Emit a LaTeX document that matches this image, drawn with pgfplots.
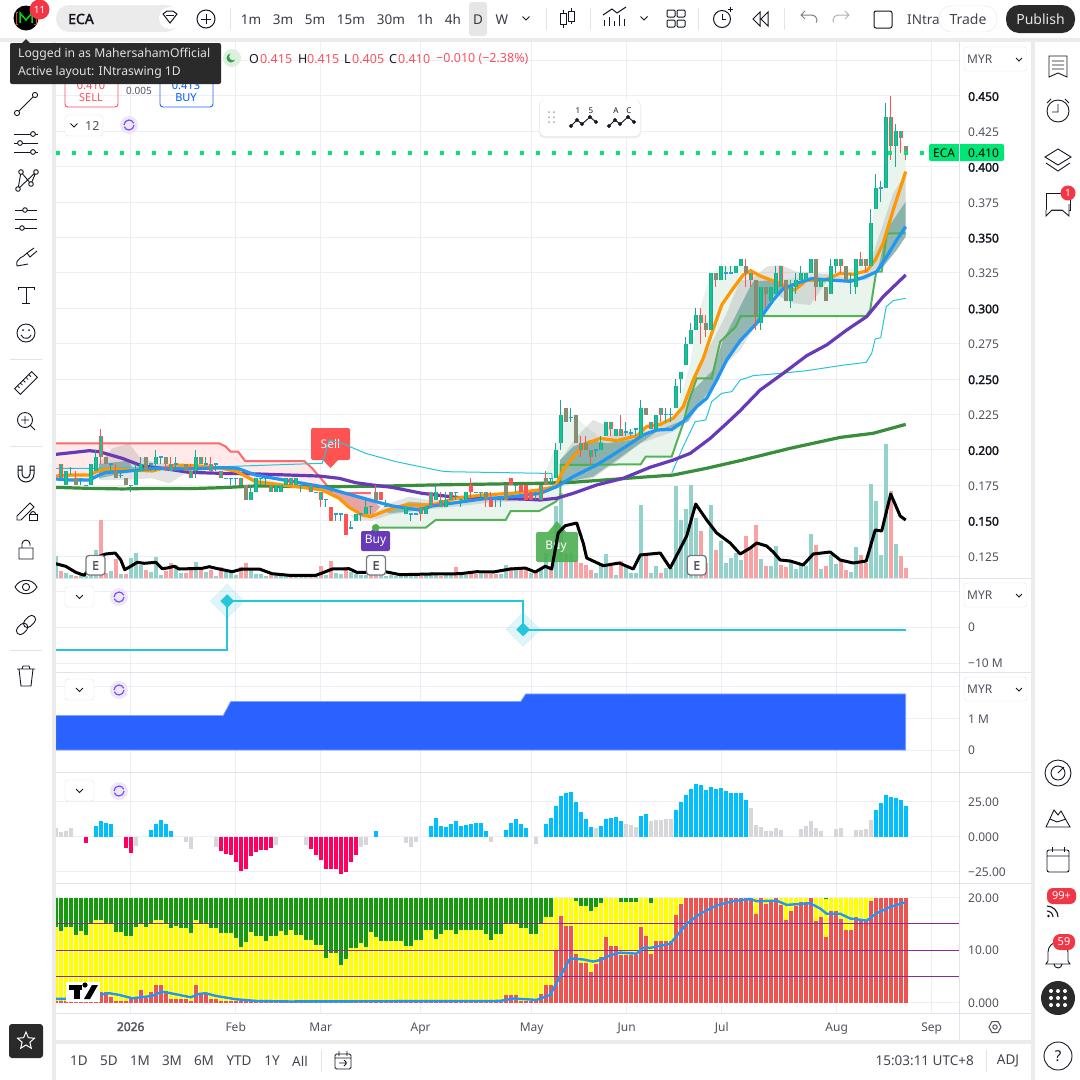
\documentclass[border=0pt]{standalone}
\usepackage{fontspec}
\usepackage{pgfplots}
\usepackage{pgfplotstable}
\pgfplotsset{compat=1.18}
\setmainfont[BoldFont={Noto Sans},BoldFeatures={FakeBold=2.2}]{Noto Sans}
\definecolor{tvgrid}{HTML}{EEEFF4}
\definecolor{tvsep}{HTML}{E0E3EB}
\definecolor{tvbar}{HTML}{EBEBEB}
\definecolor{tvtext}{HTML}{131722}
\definecolor{tvmid}{HTML}{50535E}
\definecolor{tvred}{HTML}{F7525F}
\definecolor{cgreen}{HTML}{10C88F}
\definecolor{cteal}{HTML}{1FA595}
\definecolor{cred}{HTML}{FF5252}
\definecolor{cblue}{HTML}{2A9FD6}
\definecolor{volup}{HTML}{92D2CA}
\definecolor{voldn}{HTML}{FAA1A4}
\definecolor{lblue}{HTML}{2196F3}
\definecolor{lorange}{HTML}{FF9800}
\definecolor{lpurple}{HTML}{673AB7}
\definecolor{ldgreen}{HTML}{388E3C}
\definecolor{lgreen}{HTML}{4CAF50}
\definecolor{lcyan}{HTML}{26C6DA}
\definecolor{tag}{HTML}{00E676}
\definecolor{dark}{HTML}{2A2A2A}
\definecolor{hblue}{HTML}{00BFFF}
\definecolor{hgray}{HTML}{D6D6DB}
\definecolor{hpink}{HTML}{FF0060}
\definecolor{sgreen}{HTML}{149B0C}
\definecolor{syellow}{HTML}{FFFF00}
\definecolor{sred}{HTML}{EF5350}
\definecolor{spurple}{HTML}{8E2A96}
\definecolor{area}{HTML}{2962FF}
\definecolor{HTMLpink}{HTML}{FFE9E9}
\definecolor{HTMLmint}{HTML}{E9F4EC}
\definecolor{HTMLdteal}{HTML}{00695C}
\definecolor{HTMLrose}{HTML}{D06060}
\newcommand{\fs}[1]{\fontsize{#1}{#1}\selectfont}

% candles: i lo hi bot top (prices in MYR)
\pgfplotstableread{
i lo hi bot top
2 .175 .185 .175 .185
7 .175 .19 .175 .19
8 .185 .2 .185 .195
16 .175 .19 .175 .185
17 .185 .195 .185 .19
20 .185 .2 .19 .195
28 .18 .2 .185 .195
39 .165 .175 .165 .17
40 .17 .18 .17 .18
44 .17 .175 .17 .175
45 .17 .175 .17 .175
46 .175 .18 .175 .18
48 .175 .18 .175 .18
60 .15 .155 .15 .155
62 .155 .165 .155 .16
70 .155 .16 .155 .16
74 .155 .16 .155 .16
76 .165 .175 .165 .17
78 .16 .17 .16 .165
82 .165 .17 .165 .17
100 .18 .205 .18 .2
101 .2 .235 .205 .225
109 .2 .21 .2 .205
110 .21 .22 .21 .22
112 .21 .215 .21 .215
117 .21 .235 .21 .23
120 .215 .225 .215 .225
124 .23 .25 .23 .245
125 .24 .255 .25 .255
126 .26 .28 .26 .275
127 .275 .29 .275 .285
128 .285 .3 .285 .295
131 .285 .325 .285 .325
133 .32 .33 .32 .33
136 .325 .33 .325 .33
137 .33 .335 .33 .335
141 .285 .315 .29 .315
143 .305 .315 .305 .315
144 .31 .33 .31 .325
147 .3 .32 .305 .315
148 .31 .325 .315 .32
149 .32 .33 .32 .325
150 .32 .325 .32 .325
151 .325 .335 .325 .335
153 .315 .32 .315 .32
155 .31 .335 .31 .33
156 .325 .335 .33 .335
160 .31 .335 .315 .335
163 .33 .37 .33 .36
164 .37 .395 .37 .385
166 .385 .445 .385 .435
168 .40 .43 .415 .425
}\cUp
\pgfplotstableread{
i lo hi bot top
1 .18 .19 .18 .19
4 .175 .185 .175 .18
9 .19 .215 .195 .21
10 .19 .195 .19 .195
12 .18 .19 .18 .185
14 .175 .18 .175 .18
18 .185 .195 .185 .195
22 .185 .195 .19 .195
23 .185 .195 .185 .19
26 .185 .19 .185 .19
27 .18 .19 .18 .185
29 .19 .195 .19 .195
31 .185 .195 .185 .19
33 .18 .185 .18 .185
37 .175 .18 .175 .18
38 .165 .175 .165 .175
43 .17 .175 .17 .175
47 .175 .18 .175 .18
51 .17 .175 .17 .175
53 .16 .17 .165 .17
64 .165 .175 .165 .17
73 .15 .16 .155 .16
75 .16 .17 .16 .17
77 .16 .17 .16 .165
79 .165 .17 .165 .17
86 .16 .17 .165 .17
90 .165 .175 .165 .175
97 .165 .175 .165 .175
98 .175 .185 .175 .18
102 .22 .23 .22 .23
104 .205 .225 .205 .225
105 .195 .21 .2 .205
106 .2 .21 .2 .205
107 .19 .2 .195 .2
111 .21 .22 .215 .22
113 .21 .225 .21 .215
118 .225 .23 .225 .23
119 .215 .22 .215 .22
121 .22 .23 .225 .23
129 .275 .3 .29 .295
130 .28 .295 .285 .29
132 .315 .325 .32 .325
138 .315 .335 .325 .33
139 .315 .325 .32 .325
140 .285 .32 .295 .32
142 .3 .315 .31 .315
145 .315 .33 .315 .33
146 .305 .32 .305 .32
152 .305 .335 .315 .335
154 .305 .315 .305 .315
157 .325 .335 .33 .335
158 .32 .33 .32 .33
161 .33 .34 .33 .335
162 .325 .335 .33 .335
167 .405 .45 .415 .435
169 .41 .425 .42 .425
170 .405 .415 .41 .415
}\cHollow
\pgfplotstableread{
i lo hi bot top
55 .15 .16 .15 .16
58 .14 .155 .14 .155
65 .165 .17 .165 .17
83 .165 .18 .17 .175
87 .16 .17 .16 .165
91 .175 .18 .175 .18
93 .17 .175 .17 .175
94 .165 .175 .165 .175
95 .165 .17 .165 .17
}\cSolid
\pgfplotstableread{
i lo hi b
3 .182 .188 .187
5 .175 .18 .18
6 .175 .175 .175
11 .185 .19 .19
13 .18 .185 .182
15 .17 .175 .175
19 .185 .19 .19
21 .19 .195 .195
24 .185 .195 .19
30 .19 .195 .19
32 .185 .19 .19
34 .18 .18 .18
35 .175 .18 .18
36 .175 .18 .18
41 .175 .18 .18
42 .175 .18 .18
49 .17 .175 .175
52 .17 .17 .17
54 .16 .165 .165
56 .15 .155 .155
57 .15 .155 .155
59 .145 .15 .145
61 .15 .155 .155
63 .155 .16 .16
66 .16 .165 .16
71 .15 .155 .155
72 .155 .155 .155
80 .165 .17 .17
81 .16 .165 .165
84 .17 .17 .17
85 .165 .17 .17
88 .16 .165 .165
89 .16 .165 .165
92 .17 .175 .175
96 .165 .17 .17
99 .175 .18 .18
103 .22 .23 .223
108 .195 .2 .2
114 .21 .22 .2125
115 .21 .215 .212
116 .21 .215 .215
122 .22 .23 .225
123 .22 .23 .225
134 .32 .33 .325
135 .325 .33 .325
159 .31 .325 .32
165 .375 .39 .385
}\cDoji

% bottom pane: red height, yellow top, green top
\pgfplotstableread{
i r y g
0 .3 14.3 20
1 .3 13.6 20
2 .3 14.3 20
3 .3 14.3 20
4 .3 12.8 20
5 .3 13.6 20
6 .3 12.8 20
7 .3 15 20
8 1.1 15.8 20
9 2 15.8 20
10 2 15 20
11 1.1 15 20
12 .2 13.4 20
13 .2 13.4 20
14 .2 12.6 20
15 .8 12.6 20
16 .8 14.3 20
17 2.3 15 20
18 .8 14.3 20
19 2 15 20
20 3.3 15.8 20
21 3.3 15.8 20
22 2.2 15 20
23 .6 14.1 20
24 .6 14.5 20
25 .6 14.1 20
26 .6 14.1 20
27 .2 13.2 20
28 3.3 15.8 20
29 1.8 15 20
30 1.8 15 20
31 .6 14.1 20
32 .6 14.1 20
33 .2 13.2 20
34 .2 13.2 20
35 .2 13.2 20
36 .2 12.2 20
37 .2 10.6 20
38 .2 11.5 20
39 .2 13.4 20
40 .2 12.6 20
41 .2 12.6 20
42 .2 11.7 20
43 .2 12.6 20
44 .2 12.6 20
45 .1 13.6 20
46 .1 12.8 20
47 .1 13.8 20
48 .1 12.8 20
49 .1 12.8 20
50 .1 11.9 20
51 .1 11.9 20
52 .1 10.9 20
53 .1 10.9 20
54 .1 8.5 20
55 .1 9.4 20
56 .1 9.4 20
57 .1 7.1 20
58 .1 8.3 20
59 .1 10.3 20
60 .1 10.3 20
61 .1 11.3 20
62 .1 10.5 20
63 .1 13.4 20
64 .1 12.4 20
65 .1 11.7 20
66 .1 11.7 20
67 .1 11.7 20
68 .1 11.7 20
69 .1 11.7 20
70 .1 10.7 20
71 .1 10.7 20
72 .1 11.9 20
73 .1 11.9 20
74 .1 13.9 20
75 .1 13.9 20
76 .1 12.1 20
77 .1 13 20
78 .1 13.9 20
79 .1 13.9 20
80 .1 13 20
81 .1 13.9 20
82 .1 13.9 20
83 .1 13.9 20
84 .1 13.9 20
85 .1 13.9 20
86 .1 13 20
87 .1 11.9 20
88 .1 13 20
89 .1 13 20
90 1.45 15 20
91 1.45 15 20
92 1.45 15 20
93 .2 14.1 20
94 .2 14.1 20
95 .2 13 20
96 .2 13 20
97 1.6 15 20
98 3.3 16.2 20
99 3.3 16.2 20
100 9.8 20 20
101 16.4 20 20
102 14.5 20 20
103 14.5 20 20
104 9.2 19.3 20
105 7.5 18.4 20
106 7.5 18.4 20
107 5.8 17.4 20
108 7.3 18.2 20
109 8.6 18.9 20
110 12.4 20 20
111 10.7 20 20
112 10.7 20 20
113 9 19.1 20
114 9 19.1 20
115 9 19.1 20
116 9 19.1 20
117 14.3 20 20
118 12.6 20 20
119 9.2 18.9 20
120 11.7 20 20
121 11.7 20 20
122 11.7 20 20
123 11.7 20 20
124 16.6 20 20
125 18.7 20 20
126 20 20 20
127 20 20 20
128 20 20 20
129 20 20 20
130 20 20 20
131 20 20 20
132 20 20 20
133 20 20 20
134 20 20 20
135 20 20 20
136 20 20 20
137 20 20 20
138 20 20 20
139 20 20 20
140 16.8 20 20
141 20 20 20
142 18.7 20 20
143 19.6 20 20
144 20 20 20
145 18.5 20 20
146 15.8 20 20
147 17.4 20 20
148 18.3 20 20
149 19.1 20 20
150 19.1 20 20
151 20 20 20
152 15.5 20 20
153 16.2 20 20
154 12.4 19.7 20
155 17.4 20 20
156 17.4 20 20
157 16 20 20
158 13.8 20 20
159 13.8 20 20
160 16.2 20 20
161 15.6 20 20
162 15.6 20 20
163 19.4 20 20
164 20 20 20
165 20 20 20
166 20 20 20
167 20 20 20
168 20 20 20
169 20 20 20
170 20 20 20
}\stack

\newcommand{\wickplot}[5]{%
 \addplot[forget plot,draw=none,mark=none,error bars/.cd,y dir=plus,y explicit,error mark=none,error bar style={draw=#2,solid,line width=#3}]
   table[x=i,y=#4,y error plus expr=\thisrow{#5}-\thisrow{#4}]{#1};}
\newcommand{\candles}[4]{%
 \wickplot{#1}{#2}{1pt}{lo}{hi}
 \wickplot{#1}{#3}{4pt}{bot}{top}
 \wickplot{#1}{#4}{2pt}{bot}{top}
}

\pgfplotsset{pane/.style={scale only axis,width=903pt,xmin=0.06,xmax=180.66,anchor=south west,
  axis line style={draw=none},major tick length=0pt,tick style={draw=none},
  xtick={15,36,53,73,95.2,114.2,133.2,156.2,175.2},xticklabels={},
  xmajorgrids,ymajorgrids,grid style={draw=tvgrid,line width=1pt},
  ytick pos=right,yticklabel pos=right,
  yticklabel style={anchor=west,xshift=9pt,yshift=-.6pt,inner sep=0pt,font=\fs{12},text=tvmid},
  clip=true},
  over/.style={scale only axis,width=903pt,xmin=0.06,xmax=180.66,anchor=south west,hide axis,clip=true}}

\tikzset{HTML/.code={\definecolor{tmpc}{HTML}{#1}\tikzset{color=tmpc}}}
\newcommand{\chev}[2]{\draw[line width=1pt,tvtext] (#1-3.5,#2-1.5)--(#1,#2+2)--(#1+3.5,#2-1.5);}
\newcommand{\refr}[2]{\fill[HTML=EDE7F6] (#1,#2) circle (9);
  \draw[line width=1.2pt,HTML=7C4DFF] (#1-5,#2) arc (180:340:5); \draw[line width=1.2pt,HTML=7C4DFF] (#1+5,#2) arc (0:160:5);}
\newcommand{\chevbox}[2]{\draw[tvsep,rounded corners=3,fill=white] (65,#1) rectangle (94,#2);\chev{79.5}{#1/2+#2/2}}
\newcommand{\myr}[1]{\draw[tvsep,rounded corners=3,fill=white] (964,#1) rectangle (1027,#1+24);
  \node[anchor=west,inner sep=0,font=\fs{12},text=tvmid] at (967,#1+12) {MYR}; \draw[line width=.9pt,tvtext] (1016,#1+11)--(1019,#1+14)--(1022,#1+11);}
\newcommand{\wave}[4]{\draw[line width=.9pt,tvtext] (#1,#2+6)--(#1+6,#2)--(#1+11,#2+4)--(#1+19,#2-3)--(#1+25,#2+2);
  \foreach \a/\b in {0/6,6/0,11/4,19/-3,25/2}{\draw[fill=white,line width=.7pt,tvtext] (#1+\a,#2+\b) circle (1.6);}
  \node[inner sep=0,font=\fs{8},text=tvtext] at (#1+7,#2-9) {#3}; \node[inner sep=0,font=\fs{8},text=tvtext] at (#1+20,#2-9) {#4};}

\begin{document}
\begin{tikzpicture}
\path[use as bounding box,fill=white] (0pt,0pt) rectangle (1080pt,-1080pt);

%----- main pane: grid and price scale
\begin{axis}[pane,at={(56pt,-578pt)},height=536pt,ymin=.1096,ymax=.4881,
  ytick={.125,.15,.175,.2,.225,.25,.275,.3,.325,.35,.375,.4,.425,.45,.475},
  yticklabels={0.125,\textcolor{tvtext}{\textbf{0.150}},0.175,\textcolor{tvtext}{\textbf{0.200}},0.225,\textcolor{tvtext}{\textbf{0.250}},0.275,\textcolor{tvtext}{\textbf{0.300}},0.325,\textcolor{tvtext}{\textbf{0.350}},0.375,\textcolor{tvtext}{\textbf{0.400}},0.425,\textcolor{tvtext}{\textbf{0.450}},{}}]
\end{axis}

%----- volume
\begin{axis}[over,at={(56pt,-578pt)},height=536pt,ymin=0,ymax=536]
\addplot[ycomb,mark=none,line width=4pt,color=volup] coordinates {(0,22)(2,5)(3,3)(5,3)(6,2)(7,18)(8,28)(11,7)(13,4)(15,20)(16,25)(17,13)(19,6)(20,21)(21,3)(24,13)(25,5)(28,16)(30,6)(32,2)(34,6)(35,6)(36,3)(39,8)(40,4)(41,4)(42,2)(44,3)(45,5)(46,4)(48,3)(49,4)(50,3)(52,3)(54,3)(56,5)(57,4)(59,6)(60,4)(61,3)(62,3)(65,3)(66,2)(67,3)(68,2)(69,3)(70,3)(71,2)(72,3)(74,3)(75,6)(76,3)(78,3)(79,3)(81,4)(82,3)(85,4)(89,4)(90,13)(92,10)(95,5)(97,10)(98,25)(100,72)(101,85)(103,25)(108,5)(109,15)(110,24)(112,3)(114,12)(115,5)(116,5)(117,73)(119,5)(120,12)(122,10)(123,10)(124,92)(125,58)(126,69)(127,93)(128,60)(131,73)(133,37)(134,15)(135,20)(136,25)(137,18)(141,19)(143,12)(144,32)(147,17)(148,9)(149,15)(150,12)(151,44)(153,9)(155,23)(156,14)(159,6)(160,31)(163,94)(164,77)(165,23)(166,134)(168,34)};
\addplot[ycomb,mark=none,line width=4pt,color=voldn] coordinates {(1,7)(4,2)(9,58)(10,5)(12,19)(14,4)(18,8)(22,7)(23,15)(26,5)(27,8)(29,8)(31,8)(33,11)(37,11)(38,15)(43,4)(47,3)(51,2)(53,12)(55,17)(58,11)(63,3)(64,4)(73,2)(77,2)(80,11)(83,5)(84,4)(86,4)(87,4)(88,4)(91,11)(93,9)(94,10)(96,7)(99,12)(102,25)(104,18)(105,15)(106,13)(107,8)(111,12)(113,17)(118,22)(121,5)(129,47)(130,15)(132,28)(138,42)(139,30)(140,53)(142,12)(145,13)(146,11)(152,33)(154,12)(157,18)(158,8)(161,23)(162,15)(167,87)(169,22)(170,10)};
\end{axis}

%----- signal labels under the price series
\begin{scope}[x=1pt,y=-1pt]
\fill[cred,rounded corners=2] (311,428) rectangle (350,460);
\fill[cred] (322,459)--(339,459)--(330.5,468)--cycle;
\node[inner sep=0,font=\fs{12},text=white] at (330.5,444) {Sell};
\fill[lpurple,rounded corners=2] (361,531) rectangle (390,551);
\fill[lpurple] (370,532)--(380,532)--(375,527)--cycle;
\node[inner sep=0,font=\fs{12},text=white] at (375.5,541) {Buy};
\fill[lgreen,fill opacity=.9,rounded corners=2] (536,532) rectangle (578,562);
\fill[lgreen,fill opacity=.9] (548,532)--(566,532)--(557,521)--cycle;
\node[inner sep=0,font=\fs{12},text=white] at (556,547) {Buy};
\end{scope}

%----- prices and overlays
\begin{axis}[over,at={(56pt,-578pt)},height=536pt,ymin=.1096,ymax=.4881]
% pink trail
\addplot[draw=none,fill=HTMLpink] coordinates {(0,.2047)(32.7,.2047)(34,.2024)(35,.1988)(36.5,.1988)(37.9,.1922)(49.7,.1922)(51.3,.1871)(55.3,.1706)(51,.1741)(40,.1823)(33,.1875)(20,.1871)(10,.1842)(6,.1788)(0,.1795)} -- cycle;
\addplot[draw=none,fill=HTMLpink] coordinates {(53,.1741)(55.3,.1706)(58,.1699)(63,.1699)(64.7,.1576)(63,.1529)(59,.1595)(56,.1659)} -- cycle;
% green trail
\addplot[draw=none,fill=HTMLmint] coordinates {(64,.1451)(74,.1451)(76,.1506)(90,.1506)(91,.1569)(96.7,.1569)(98,.1595)(100,.1635)(100.9,.167)(101,.1894)(117,.1899)(118,.1953)(123.2,.1953)(125.5,.2188)(126.5,.233)(128.2,.2506)(131.2,.2506)(132.9,.2765)(136,.287)(137,.2946)(162.1,.2946)(162.9,.2989)(164.1,.3259)(165.2,.3259)(166.2,.3525)(167,.353)(170,.353)(170,.412)(166.2,.433)(165.2,.385)(164.2,.385)(163.2,.36)(162,.33)(150,.322)(143.5,.32)(138,.3295)(134,.33)(131,.325)(128.2,.2918)(126.9,.2612)(124,.225)(118,.218)(109,.208)(104,.223)(102,.229)(101,.2235)(100.2,.2047)(96,.167)(90,.167)(80,.1628)(75,.16)(67,.1581)(64,.1529)} -- cycle;
% grey clouds
\addplot[draw=none,fill=gray,fill opacity=.22] coordinates {(8.7,.1906)(11.3,.2012)(14.7,.2047)(16.7,.1953)(20,.1906)(26.7,.1894)(33.3,.1871)(36.7,.1847)(31.3,.1859)(26.7,.1847)(22.7,.1765)(19.3,.18)(13.3,.1788)(8.7,.1788)} -- cycle;
\addplot[draw=none,fill=gray,fill opacity=.18] coordinates {(36.7,.1835)(42.7,.1788)(50.7,.1718)(53.3,.1718)(46.7,.1741)(40,.1753)} -- cycle;
\addplot[draw=none,fill=gray,fill opacity=.22] coordinates {(58.7,.1541)(63.3,.1541)(66.7,.1623)(70.7,.167)(74.7,.1647)(80,.1647)(86.7,.167)(96.7,.1706)(96.7,.1647)(86.7,.1628)(80,.16)(73.3,.1576)(66.7,.1541)(63.3,.1501)(60,.1506)} -- cycle;
\addplot[draw=none,fill=gray,fill opacity=.22] coordinates {(100.9,.1929)(104.2,.2094)(107.5,.2212)(112.2,.2141)(116.2,.2106)(123.5,.2212)(126.5,.2377)(128.2,.2565)(131.5,.2777)(134.2,.2965)(136.9,.32)(138.9,.32)(142.2,.3295)(144.9,.3306)(148.2,.3259)(150.9,.3259)(159.5,.3212)(162.2,.3248)(165.5,.36)(167.5,.3813)(170,.3954)(170,.3507)(168.2,.3412)(165.5,.3295)(162.2,.32)(154.2,.3189)(150.9,.3024)(147.5,.3036)(143.5,.3106)(140.2,.2895)(136.9,.2706)(134.2,.2612)(131.5,.2459)(128.9,.233)(126.5,.22)(123.5,.2129)(116.9,.2047)(112.2,.1918)(107.5,.18)(100.9,.1741)} -- cycle;
% teal clouds
\addplot[draw=none,fill=HTMLdteal,fill opacity=.35] coordinates {(8.7,.19)(14.7,.1925)(15.5,.185)(8.7,.18)} -- cycle;
\addplot[draw=none,fill=HTMLdteal,fill opacity=.3] coordinates {(66,.1564)(70.7,.1635)(74.7,.1623)(73.3,.1576)(66.7,.1553)} -- cycle;
\addplot[draw=none,fill=HTMLdteal,fill opacity=.35] coordinates {(100.9,.1929)(103.5,.2024)(106.9,.2071)(110.2,.2047)(116.9,.2082)(125.5,.2212)(126.9,.24)(129.5,.2494)(131.5,.2565)(133.5,.2777)(136.9,.3012)(138.2,.3106)(139.5,.3189)(143.5,.32)(146.2,.3153)(143.5,.3083)(140.2,.2895)(136.9,.2753)(134.2,.2647)(131.5,.2459)(128.9,.233)(126.5,.22)(120.2,.2129)(116.9,.2047)(112.2,.1929)(107.5,.1812)(100.9,.1765)} -- cycle;
\addplot[draw=none,fill=HTMLdteal,fill opacity=.35] coordinates {(164.2,.3259)(164.9,.3342)(166.2,.3554)(170,.3754)(170,.3507)(168.2,.3412)(165.5,.3295)} -- cycle;
\addplot[draw=none,fill=HTMLrose,fill opacity=.5] coordinates {(53,.1741)(58,.1694)(63.3,.1642)(65,.16)(63,.1529)(60.6,.1541)(58.7,.1595)(56.7,.1659)} -- cycle;
% stop lines
\addplot[color=cred,line width=2pt,opacity=.85] coordinates {(0,.2047)(32.7,.2047)(34,.2024)(35,.1988)(36.5,.1988)(37.9,.1922)(49.7,.1922)(51.3,.1871)(55.3,.1706)};
\addplot[color=cred,line width=2pt,opacity=.85] coordinates {(58,.1699)(63,.1699)};
\addplot[color=lgreen,line width=2pt,opacity=.95] coordinates {(64,.1451)(74,.1451)(76,.1506)(90,.1506)(91,.1569)(96.7,.1569)(98,.1595)(100,.1635)(100.9,.167)(101,.1894)(117,.1899)(118,.1953)(123.2,.1953)(125.5,.2188)(126.5,.233)(128.2,.2506)(131.2,.2506)(132.9,.2765)(136,.287)(137,.2946)(162.1,.2946)(162.9,.2989)(164.1,.3259)(165.2,.3259)(166.2,.3525)(167,.353)(170,.353)};
\addplot[only marks,mark=*,mark size=3.5pt,color=lgreen] coordinates {(64,.1451)};
% thin cyan line
\addplot[color=lcyan,line width=1pt] coordinates {(0,.1871)(8.7,.1871)(33.3,.1882)(53.3,.1906)(54.7,.2071)(57.3,.2047)(62,.1976)(68,.1918)(76.7,.1854)(78,.1847)(98,.1835)(99.2,.1835)(99.5,.1725)};
\addplot[color=lcyan,line width=1pt] coordinates {(123.2,.1835)(125.5,.2024)(127.9,.22)(130,.2212)(131.2,.2341)(133.2,.24)(135.2,.2412)(136.9,.2494)(139.5,.2525)(144.9,.2541)(150.2,.256)(156.9,.2596)(162.1,.2619)(163.2,.2683)(163.9,.2784)(165,.2793)(166.1,.3012)(167.5,.3055)(170,.3071)};
% long averages
\addplot[color=ldgreen,line width=3.2pt] coordinates {(0,.1736)(6.7,.1729)(13.3,.1725)(20,.1729)(26.7,.1727)(33.3,.1734)(40,.1746)(50,.1741)(56.7,.1741)(66.7,.1746)(75.3,.1753)(96.9,.1765)(103.5,.1772)(116.9,.1807)(123.5,.1823)(130.2,.1871)(136.9,.1925)(146.9,.2012)(156.9,.2089)(163.5,.2118)(170,.2181)};
\addplot[color=lpurple,line width=3.2pt] coordinates {(0,.1969)(6.7,.1995)(8.7,.1988)(13.3,.1941)(17.3,.1887)(21.3,.1871)(26.7,.1842)(33.3,.1835)(40,.1831)(46.7,.1823)(52.7,.1816)(56.7,.18)(60,.1769)(63.3,.1753)(67.3,.1736)(73.3,.1694)(80,.1666)(86.7,.1659)(93.3,.1654)(96.9,.1647)(100.2,.1659)(103.5,.1694)(108.2,.1753)(113.5,.18)(118.9,.1878)(123.5,.1929)(126.9,.1976)(130.9,.2082)(134.2,.2188)(136.9,.2278)(140.9,.2424)(145.5,.2541)(150.2,.2666)(154.2,.2742)(158.2,.2847)(162.2,.2942)(165.5,.3083)(170,.3236)};
% fast averages
\addplot[color=lorange,line width=3.2pt] coordinates {(0,.1816)(3,.1823)(6.7,.1823)(8.7,.1854)(10.7,.1866)(14.7,.1859)(19.3,.1852)(24,.1894)(28.7,.1887)(33.3,.1871)(36.3,.1847)(40,.1776)(45.3,.1753)(49.3,.1736)(53.3,.1718)(56.7,.1659)(58.7,.1595)(61.3,.1541)(63,.1529)(66.7,.1581)(70,.1612)(75.3,.1612)(80,.1659)(85.3,.1682)(91.3,.1694)(96.7,.1718)(99.9,.1741)(101.5,.1859)(103.5,.1953)(106.2,.2047)(108.9,.2082)(112.2,.2066)(116.2,.2099)(118.2,.2165)(120.9,.2181)(123.5,.2224)(125.5,.2306)(127.5,.2494)(129.5,.2647)(131.2,.2824)(133.2,.3024)(135.5,.3142)(137.5,.3236)(139,.3266)(140.9,.3229)(143.5,.3194)(147.8,.313)(150.2,.32)(153.5,.3196)(156.9,.3248)(159.5,.3241)(162.2,.3264)(163.9,.3342)(165.5,.346)(167.5,.3695)(170,.3966)};
\addplot[color=lblue,line width=3.2pt] coordinates {(0,.1795)(3,.1788)(6.7,.1788)(8.7,.1823)(10,.1842)(13.3,.1847)(20,.1871)(26,.1866)(33.3,.1875)(36.3,.1871)(40,.1823)(46.7,.1781)(53.3,.1741)(58,.1694)(63.3,.1642)(67.3,.1605)(72.7,.1576)(75.3,.1605)(80,.1628)(85.3,.1654)(91.3,.167)(96.9,.1694)(100.2,.1741)(103.5,.1812)(108.2,.1894)(113.5,.2012)(117.5,.2106)(120.2,.2141)(123.2,.2146)(125.5,.22)(128.2,.2306)(130.2,.2365)(132.2,.2494)(134.2,.2636)(136.9,.2772)(140.2,.2895)(143.5,.3059)(145.5,.3139)(148.2,.3177)(151.2,.321)(154.9,.32)(158.9,.3191)(161.5,.3217)(164.2,.3259)(166.2,.3365)(168.2,.3483)(170,.3577)};
% candles
\candles{\cUp}{cteal}{cteal}{cgreen}
\candles{\cHollow}{cred}{cred}{cgreen}
\candles{\cSolid}{cred}{cred}{cred}
\wickplot{\cDoji}{cteal}{1pt}{lo}{hi}
\addplot[forget plot,only marks,mark=-,mark size=2pt,mark options={line width=1.6pt,draw=cblue}] table[x=i,y=b]{\cDoji};
% last price line
\addplot[color=tag,line width=4pt,dash pattern=on 4pt off 12pt] coordinates {(0.06,.41)(174.9,.41)};
\end{axis}

%----- oscillator line over volume
\begin{axis}[over,at={(56pt,-578pt)},height=536pt,ymin=0,ymax=536]
\addplot[color=black,line width=3pt,line join=round] coordinates {(0,14.3)(2,11.7)(4,5.7)(5.7,2.7)(8.7,21.7)(10,24)(11.9,25)(13,18.3)(13.8,8.3)(15,11.7)(16.3,15.7)(17.7,14.7)(20,15.7)(21.3,9.3)(22.3,10)(23.7,11.7)(24.7,9)(29.3,9.7)(30.7,11.3)(32.7,9)(35.3,6.3)(37.3,9)(40.7,9)(43.3,4.3)(46.7,2.7)(52,2.7)(53.3,5)(55.3,9)(58.7,9.3)(60.2,5.7)(62,5.7)(65.5,6.7)(68.9,3.3)(74.9,4)(80.9,4.3)(84.2,6.3)(87.5,6)(90.9,9)(93.9,10)(95.9,6)(97.9,11.7)(99.2,9)(100.5,45)(101.9,52.3)(104.2,55)(105.5,35)(106.2,20)(109.5,12.3)(112.7,15)(115.5,9)(116.9,23)(120.9,25)(122.9,10)(126.2,42)(128,74)(130.2,58)(132.2,45)(134.9,35)(136.9,24)(138.9,30)(140.2,35)(142.2,32)(143.5,26)(144.9,18)(146.9,17)(149.5,13)(151.5,24)(154.9,26)(156.9,18)(159.5,15)(162.1,17)(163.9,48)(165.2,47)(167,84)(168.9,62)(170,58)};
\end{axis}

%----- second pane
\begin{axis}[pane,at={(56pt,-671pt)},height=92pt,ymin=-12.22,ymax=13.33,ytick={-10,0,10},yticklabels={−10 M,0,{}}]
\addplot[only marks,mark=square*,mark size=12pt,color=lcyan,opacity=.15,mark options={rotate=45}] coordinates {(34.3,7.2)(93.5,-.7)};
\addplot[color=lcyan,line width=2pt] coordinates {(0,-6.4)(34.3,-6.4)(34.3,7.2)(93.5,7.2)(93.5,-.7)(170,-.7)};
\addplot[only marks,mark=square*,mark size=4.6pt,color=lcyan,mark options={rotate=45}] coordinates {(34.3,7.2)(93.5,-.7)};
\end{axis}

%----- third pane
\begin{axis}[pane,at={(56pt,-772pt)},height=100pt,ymin=-.695,ymax=2.464,ytick={0,1,2},yticklabels={0,1 M,{}}]
\addplot[fill=area,draw=area!60!white,line width=.8pt] coordinates {(0,0)(0,1.09)(33.5,1.09)(35,1.53)(93,1.53)(94,1.77)(170,1.77)(170,0)} -- cycle;
\end{axis}

%----- histogram pane
\begin{axis}[pane,at={(56pt,-883pt)},height=110pt,ymin=-32.8,ymax=45.1,ytick={-25,0,25},yticklabels={−25.00,0.000,25.00}]
\addplot[ycomb,mark=none,line width=4pt,color=hgray] coordinates {(0,5.9)(1,3.5)(2,4.2)(3,5.9)(16,-6.4)(26,-3.5)(27,-8.5)(32,-7.3)(44,-5.7)(50,-5.7)(61,-7.1)(62,-5.7)(70,-4.2)(71,-7.1)(72,-3.5)(87,-3.5)(96,-5.2)(108,6.1)(114,9)(115,8.3)(116,6.8)(119,11.1)(120,11.8)(121,11.8)(122,12.5)(123,12.5)(139,20.3)(140,8.3)(141,6.8)(142,4)(143,4)(144,6.1)(145,4.7)(149,5.4)(150,7.6)(151,11.1)(152,6.1)(153,4)(156,5.4)(157,6.1)(160,4.7)(161,4.7)(162,5.4)(163,11.8)};
\addplot[ycomb,mark=none,line width=4pt,color=hblue] coordinates {(8,7.6)(9,11.1)(10,9.7)(11,9)(19,4.7)(20,9)(21,11.8)(22,9)(23,4)(64,4)(75,7.6)(76,13.2)(77,7.6)(78,6.8)(79,9)(80,11.1)(81,7.6)(82,8.3)(83,9)(84,9.7)(85,9.7)(86,4)(90,4.7)(91,9.7)(92,12.5)(93,9)(94,6.1)(98,9)(99,13.2)(100,21.7)(101,28.8)(102,30.9)(103,31.6)(104,24.5)(105,17.5)(106,12.5)(107,6.8)(109,7.6)(110,12.5)(111,13.2)(112,13.9)(113,11.1)(117,14.6)(118,16)(124,18.9)(125,24.5)(126,29.5)(127,33.7)(128,37.3)(129,36.6)(130,33)(131,35.2)(132,33.7)(133,34.5)(134,32.3)(135,30.9)(136,30.9)(137,30.9)(138,26)(164,18.9)(165,23.8)(166,29.5)(167,28.1)(168,27.4)(169,26)(170,21.7)};
\addplot[ycomb,mark=none,line width=4pt,color=hpink] coordinates {(6,-4.2)(14,-7.8)(15,-11.3)(33,-10.1)(34,-12)(35,-13)(36,-17.7)(37,-24.1)(38,-22.9)(39,-13.5)(40,-10.9)(41,-9.4)(42,-9.2)(43,-7.8)(51,-8.5)(52,-13)(53,-16.5)(54,-22.7)(55,-22.7)(56,-22.7)(57,-26.2)(58,-24.8)(59,-17.7)(60,-12.7)};
\end{axis}

%----- bottom pane
\begin{axis}[pane,at={(56pt,-1013pt)},height=129pt,ymin=-2,ymax=22.57,ytick={0,10,20},yticklabels={0.000,10.00,20.00},
  xticklabels={\textbf{2026},Feb,Mar,Apr,May,Jun,Jul,Aug,Sep},xticklabel pos=bottom,
  xticklabel style={anchor=base,yshift=-18pt,inner sep=0pt,font=\fs{12},text=tvmid}]
\addplot[ycomb,mark=none,line width=4pt,color=sgreen] table[x=i,y=g]{\stack};
\addplot[ycomb,mark=none,line width=4pt,color=syellow] table[x=i,y=y]{\stack};
\addplot[ycomb,mark=none,line width=4pt,color=sred] table[x=i,y=r]{\stack};
\addplot[color=spurple,line width=1pt] coordinates {(0.06,15)(180.66,15)};
\addplot[color=spurple,line width=1pt] coordinates {(0.06,10)(180.66,10)};
\addplot[color=spurple,line width=1pt] coordinates {(0.06,5)(180.66,5)};
\addplot[color=lblue,line width=2.4pt] coordinates {(0,.7)(3,.7)(7.3,.8)(8.7,1.45)(10.7,1.77)(12.7,1.45)(15.3,.8)(19.3,1.26)(21.3,2.08)(24.7,1.45)(27,1)(28.7,1.64)(30,1.77)(32,1.26)(36,.63)(40,.3)(46.7,.2)(88.9,.3)(91.5,.76)(96.2,.5)(98.9,1.45)(100.5,4.3)(102.9,8.4)(105.5,8.2)(107.5,7.8)(108.9,8.1)(110.9,9)(112.9,9.5)(116.2,9.3)(117.5,10.4)(118.9,10.4)(122.9,11.2)(126.2,15)(128.9,16.9)(132.2,18.5)(135.5,19.3)(138.9,19.7)(140.2,19.3)(144.2,19.4)(146.2,18.6)(150.9,18.9)(152.9,17.9)(154.2,16.9)(156.9,16.9)(158.9,16)(162.2,15.6)(164.2,17)(166.9,18.2)(170,19.1)};
\end{axis}

%----- interface furniture
\begin{scope}[x=1pt,y=-1pt]
% separators
\fill[tvbar] (0,38) rectangle (1080,42);
\fill[tvbar] (52,42) rectangle (56,1080);
\fill[tvbar] (1031,42) rectangle (1035,1080);
\fill[tvbar] (56,1040) rectangle (1031,1044);
\foreach \y in {578,672,772,883,1013} {\draw[tvsep,line width=1pt] (56,\y)--(1031,\y);}
\draw[tvsep,line width=1pt] (959,42)--(959,1040);

% watermark
\fill[white] (66,982) rectangle (100,1002);
\fill[black] (69,985) rectangle (82,990); \fill[black] (74,985) rectangle (80,999);
\fill[black] (85,985) circle (2.6);
\fill[black] (92,985)--(98,985)--(90,999)--(84,999)--cycle;

% E badges
\foreach \x in {95.5,376,696.7} {
 \draw[HTML=77797F,line width=1.3pt,fill=white,rounded corners=3] (\x-9.5,555.5) rectangle (\x+9.5,575);
 \node[inner sep=0,font=\fs{12}\bfseries,text=tvmid] at (\x,565.5) {E};}

% last price tag
\fill[tag,rounded corners=2] (929,144) rectangle (1004,161);
\draw[white,line width=.8pt] (959.5,144)--(959.5,161);
\node[anchor=west,inner sep=0,font=\fs{12},text=black] at (933,153) {ECA};
\node[anchor=west,inner sep=0,font=\fs{12},text=black] at (968,153) {0.410};

% legend row
\fill[HTML=DDEFDD] (232,58) circle (9);
\fill[HTML=2E9E4F] (231,58) circle (4.5); \fill[HTML=DDEFDD] (233,56.5) circle (3.8);
\foreach \x/\s/\c in {249/O/tvtext,260/0.415/tvred,298/H/tvtext,307/0.415/tvred,344/L/tvtext,352/0.405/tvred,389/C/tvtext,398/0.410/tvred,436/−0.010 (−2.38\%)/tvred}
 {\node[anchor=west,inner sep=0,font=\fs{12.5},text=\c] at (\x,59) {\s};}
% buy sell
\draw[tvred,rounded corners=3,line width=.9pt] (65,70) rectangle (118,107);
\node[inner sep=0,font=\fs{11},text=tvred] at (91,98) {SELL};
\node[inner sep=0,font=\fs{11},text=tvred] at (91,86) {0.410};
\draw[HTML=2962FF,rounded corners=3,line width=.9pt] (160,70) rectangle (213,107);
\node[inner sep=0,font=\fs{11},text=blue!65!cyan] at (186,98) {BUY};
\node[inner sep=0,font=\fs{11},text=blue!65!cyan] at (186,86) {0.413};
\node[inner sep=0,font=\fs{10},text=tvmid] at (139,91) {0.005};
% tooltip
\fill[dark,rounded corners=2] (10,43) rectangle (221,84);
\fill[dark] (21,44)--(26,39)--(31,44)--cycle;
\node[anchor=west,inner sep=0,font=\fs{12.2},text=white!88!black] at (18,54.5) {Logged in as MahersahamOfficial};
\node[anchor=west,inner sep=0,font=\fs{12.2},text=white!88!black] at (18,72.5) {Active layout: INtraswing 1D};
% pane controls
\draw[tvsep,rounded corners=3,fill=white] (65,115) rectangle (103,136);
\chev{74}{125} \node[anchor=west,inner sep=0,font=\fs{12.5},text=tvmid] at (85,125.5) {12};
\refr{129}{125}
\chevbox{586}{607}\refr{119}{597}
\chevbox{679}{700}\refr{119}{690}
\chevbox{780}{801}\refr{119}{791}
\myr{47}\myr{583}\myr{677}
% floating drawing bar
\fill[gray!15,rounded corners=5] (539,100) rectangle (641,138);
\fill[white,rounded corners=5] (540,100) rectangle (640,136);
\foreach \a in {549,554} \foreach \b in {112,117,122} {\fill[gray!70] (\a,\b) circle (1);}
\wave{571}{120}{1}{5} \wave{609}{120}{A}{C}

% top bar
\fill[HTML=EBEBEB,rounded corners=13] (56,5) rectangle (179,32);
\fill[white] (170,18) circle (11);
\draw[line width=1pt,tvtext] (163,14)--(167,11)--(173,11)--(177,14)--(170,23)--cycle; \draw[line width=1pt,tvtext] (166,15)--(174,15);
\node[anchor=west,inner sep=0,font=\fs{14}\bfseries,text=tvtext] at (68,19) {ECA};
\draw[line width=1pt,tvtext] (206,19) circle (9); \draw[line width=1pt,tvtext] (201,19)--(211,19) (206,14)--(206,24);
\draw[tvsep] (230,8)--(230,30);
\fill[HTML=E6E6E6,rounded corners=3] (469,2) rectangle (487,36);
\foreach \x/\s in {251/1m,283/3m,315/5m,351/15m,391/30m,425/1h,453/4h,478/D,502/W}
 {\node[inner sep=0,font=\fs{13.5},text=tvtext!85!white] at (\x,19.5) {\s};}
\chev{526}{18}
\draw[tvsep] (546,8)--(546,30);
% candle icon
\draw[tvtext,line width=1pt] (563,10)--(563,28) (571,8)--(571,24); \draw[tvtext,fill=white,line width=1pt] (560,13) rectangle (566,24); \draw[tvtext,fill=white,line width=1pt] (568,11) rectangle (574,21);
\draw[tvsep] (590,8)--(590,30);
% indicators
\draw[tvtext,line width=1pt] (604,26)--(604,20) (609,26)--(609,17) (614,26)--(614,21) (619,26)--(619,15) (624,26)--(624,19);
\draw[tvtext,line width=1pt] (603,15)--(612,9)--(617,13)--(626,7);
\chev{644}{18}
% layout
\foreach \a/\b in {667/10,677/10,667/20,677/20} {\draw[tvtext,line width=1pt,rounded corners=1] (\a,\b) rectangle (\a+8,\b+7);}
\draw[tvsep] (698,8)--(698,30);
% alert
\draw[tvtext,line width=1pt] (722,19) circle (8.5); \draw[tvtext,line width=1pt] (722,14)--(722,19)--(726,19) (728,9)--(733,9) (730.5,6.5)--(730.5,11.5);
% replay
\draw[tvtext,line width=1pt] (760,12)--(753,19)--(760,26)--cycle (768,12)--(761,19)--(768,26)--cycle;
\draw[tvsep] (784,8)--(784,30);
% undo redo
\draw[gray,line width=1pt] (801,15)--(812,15) arc (270:390:5) (805,11)--(801,15)--(805,19);
\draw[gray!60,line width=1pt] (849,15)--(838,15) arc (270:150:5) (845,11)--(849,15)--(845,19);
\draw[tvtext,line width=1pt,rounded corners=2] (874,11) rectangle (892,28);
\node[anchor=west,inner sep=0,font=\fs{13.5},text=tvtext!80!white] at (907,19.5) {INtra};
\draw[HTML=E6E6E6,fill=white,rounded corners=12] (939,6) rectangle (997,32);
\node[inner sep=0,font=\fs{14},text=tvtext!80!white] at (968,19.5) {Trade};
\fill[dark,rounded corners=13] (1006,5) rectangle (1075,33);
\node[inner sep=0,font=\fs{14},text=white!90!black] at (1040.5,19.5) {Publish};
% logo
\fill[black] (26,18) circle (12.5);
\draw[HTML=00E000,line width=1.5pt] (20,23)--(20,13)--(26,20)--(32,13)--(32,23);
\draw[HTML=E53935,line width=1pt] (18,12)--(16,12)--(16,24)--(18,24) (34,12)--(36,12)--(36,24)--(34,24);
\fill[HTML=F23645] (39.5,9.5) circle (10);
\node[inner sep=0,font=\fs{10},text=white] at (39.5,9.5) {11};

% left toolbar
\draw[tvtext,line width=.9pt] (17,113)--(35,95);
\foreach \p in {(17,113),(35,95)} {\draw[tvtext,fill=white,line width=.9pt] \p circle (2.6);}
\draw[tvtext,line width=.9pt] (14,134)--(38,134) (14,143)--(38,143) (14,152)--(38,152);
\draw[tvtext,fill=white,line width=.9pt] (33,134) circle (2.4) (20,143) circle (2.4) (33,152) circle (2.4);
\draw[tvtext,line width=.9pt] (18,189)--(21,172)--(31,184)--(36,172)--(18,189);
\foreach \p in {(18,189),(21,172),(31,184),(36,172)} {\draw[tvtext,fill=white,line width=.9pt] \p circle (2.3);}
\draw[tvtext,line width=.9pt] (15,210)--(37,210) (15,219)--(37,219) (15,228)--(37,228);
\draw[tvtext,fill=white,line width=.9pt] (25,210) circle (2.3) (22,228) circle (2.3);
\draw[tvtext,line width=.9pt] (17,266) .. controls (15,257) and (24,258) .. (27,253) (27,253)--(34,248) (37,251)--(30,257)--(27,253) (17,266)--(28,264);
\draw[tvtext,line width=.9pt] (18,287)--(34,287) (26,287)--(26,303) (22,303)--(30,303) (18,287)--(18,290) (34,287)--(34,290);
\draw[tvtext,line width=.9pt] (26,333) circle (9); \fill[tvtext] (23,330) circle (1) (29,330) circle (1); \draw[tvtext,line width=.9pt] (21,335) arc (160:20:5.3);
\foreach \y in {359,446,650} {\draw[tvsep] (10,\y)--(42,\y);}
\begin{scope}[shift={(26,383)},rotate=45]\draw[tvtext,line width=.9pt] (-12,-4) rectangle (12,4);\foreach \a in {-8,-4,0,4,8} {\draw[tvtext,line width=.8pt] (\a,-4)--(\a,-1);}\end{scope}
\draw[tvtext,line width=.9pt] (25,420) circle (7.5) (21,420)--(29,420) (25,416)--(25,424) (30.5,425.5)--(35,430);
\draw[tvtext,line width=1pt] (18,466)--(18,474) arc (180:0:8) --(34,466)--(30,466)--(30,474) arc (0:180:4)--(22,466)--cycle (18,470)--(22,470) (30,470)--(34,470);
\draw[tvtext,line width=.9pt] (17,516)--(30,503)--(34,507)--(21,520)--(17,520)--cycle;
\draw[tvtext,line width=.9pt,fill=white] (29,514) rectangle (37,520); \draw[tvtext,line width=.9pt] (30.5,514) arc (180:360:2.5);
\draw[tvtext,line width=.9pt] (19,548) rectangle (33,559) (22,548)--(22,544) arc (180:360:4) --(30,546);
\draw[tvtext,line width=.9pt] (15,587) .. controls (20,578) and (32,578) .. (37,587) .. controls (32,596) and (20,596) .. (15,587) (26,587) circle (3.6);
\begin{scope}[shift={(26,625)},rotate=45]\draw[tvtext,line width=.9pt,rounded corners=4] (-12,-4) rectangle (1,4);\draw[tvtext,line width=.9pt,rounded corners=4] (-2,-4) rectangle (12,4);\end{scope}
\draw[tvtext,line width=.9pt] (17,669)--(35,669) (19,669)--(21,686)--(31,686)--(33,669) (22,669)--(23,666)--(29,666)--(30,669);
\fill[dark,rounded corners=3] (9,1024) rectangle (43,1058);
\draw[white,line width=1pt] (26,1032)--(28.4,1037.7)--(34.5,1038.2)--(29.9,1042.2)--(31.3,1048.2)--(26,1045)--(20.7,1048.2)--(22.1,1042.2)--(17.5,1038.2)--(23.6,1037.7)--cycle;

% right strip
\draw[tvtext,line width=.9pt] (1049,56)--(1067,56)--(1067,77)--(1058,73)--(1049,77)--cycle (1052,61)--(1064,61) (1052,65)--(1064,65) (1052,69)--(1064,69);
\draw[tvtext,line width=.9pt] (1058,111) circle (11) (1058,104)--(1058,112)--(1052,112) (1047,103)--(1051,99) (1065,99)--(1069,103);
\draw[tvtext,line width=.9pt] (1058,149)--(1071,157)--(1058,165)--(1045,157)--cycle (1046,163)--(1058,171)--(1070,163);
\draw[tvtext,line width=.9pt] (1046,193) rectangle (1070,210); \draw[tvtext,line width=.9pt,fill=white] (1046,210)--(1046,216)--(1052,210)--(1062,210)--(1069,216)--(1069,204);
\fill[HTML=F23645] (1068,193) circle (7.5); \node[inner sep=0,font=\fs{10},text=white] at (1068,193) {1};
\draw[tvtext,line width=.9pt] (1058,773) circle (13) (1058,773) circle (7) (1058,773)--(1064,767);
\draw[tvtext,line width=.9pt] (1046,827)--(1054,810)--(1058,815)--(1061,811)--(1070,827)--cycle (1050,819)--(1057,822)--(1066,819);
\draw[tvtext,line width=.9pt,rounded corners=2] (1047,850) rectangle (1069,872) (1047,856)--(1069,856); \draw[tvtext,line width=.9pt] (1052,847)--(1052,852) (1064,847)--(1064,852);
\draw[tvtext,line width=1.1pt] (1047,906) arc (270:360:11) (1047,911) arc (270:360:6); \fill[tvtext] (1048.5,916) circle (1.4);
\fill[HTML=F23645,rounded corners=6] (1047,888) rectangle (1076,904); \node[inner sep=0,font=\fs{11},text=white] at (1061.5,896) {99+};
\draw[tvtext,line width=.9pt] (1048,961)--(1048,952) arc (180:360:10) --(1068,961)--(1070,964)--(1046,964)--cycle (1054,964) arc (180:0:4);
\fill[HTML=F23645,rounded corners=7] (1053,934) rectangle (1075,950); \node[inner sep=0,font=\fs{11},text=white] at (1064,942) {59};
\fill[dark] (1058,998) circle (17);
\foreach \a in {-7,0,7} \foreach \b in {-7,0,7} {\fill[white] (1058+\a,998+\b) circle (2);}
\draw[tvtext,line width=.9pt] (1058,1056) circle (14); \node[inner sep=0,font=\fs{15},text=tvtext] at (1058,1056) {?};

% bottom bar
\foreach \x/\s in {79/1D,109/5D,140/1M,172/3M,204/6M,239/YTD,272/1Y,300/All}
 {\node[inner sep=0,font=\fs{13.5},text=tvtext!80!white] at (\x,1061) {\s};}
\draw[tvsep] (321,1050)--(321,1072);
\draw[tvtext,line width=.9pt,rounded corners=1.5] (335,1054) rectangle (351,1069) (335,1058)--(351,1058) (339,1051)--(339,1056) (347,1051)--(347,1056) (339,1063)--(347,1063) (344,1060)--(347,1063)--(344,1066);
\node[anchor=east,inner sep=0,font=\fs{13.5},text=tvtext!80!white] at (974,1061) {15:03:11 UTC+8};
\draw[tvsep] (986,1050)--(986,1072);
\node[inner sep=0,font=\fs{13.5},text=tvtext!80!white] at (1008,1061) {ADJ};
\draw[tvmid,line width=1pt] (989,1027)--(992,1021.5)--(998,1021.5)--(1001,1027)--(998,1032.5)--(992,1032.5)--cycle (995,1027) circle (2.2);
\end{scope}
\end{tikzpicture}
\end{document}
